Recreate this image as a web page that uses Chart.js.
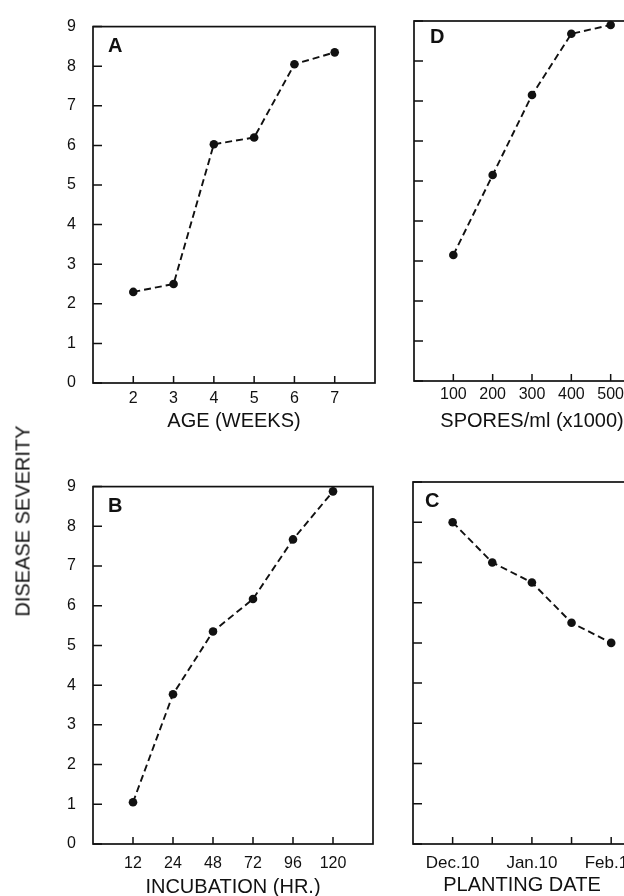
<!DOCTYPE html>
<html>
<head>
  <meta charset="UTF-8" />
  <title>Disease Severity</title>
  <script src="https://cdn.jsdelivr.net/npm/chart.js"></script>
  <style>
    html, body {
      margin: 0;
      padding: 0;
      width: 624px;
      height: 896px;
      overflow: hidden;
      background: white;
    }
    body {
      position: relative;
      font-family: "Liberation Sans", Arial, sans-serif;
    }
    canvas { position: absolute; }
    #chartA { left: 0; top: 0; }
    #chartD { left: 390px; top: 0; }
    #chartB { left: 0; top: 460px; }
    #chartC { left: 390px; top: 460px; }
    .ylabel {
      position: absolute;
      left: 23px;
      top: 521px;
      transform: translate(-50%, -50%) rotate(-90deg);
      font-size: 20px;
      color: #111;
      white-space: nowrap;
    }
  </style>
</head>
<body>
  <canvas id="chartA" width="390" height="440"></canvas>
  <canvas id="chartD" width="300" height="440"></canvas>
  <canvas id="chartB" width="390" height="450"></canvas>
  <canvas id="chartC" width="300" height="450"></canvas>
  <div class="ylabel">DISEASE SEVERITY</div>
  <script>
    const severityTicks = [0, 1, 2, 3, 4, 5, 6, 7, 8, 9];

    const ageWeeks = [2, 3, 4, 5, 6, 7];
    const ageSeverity = [2.3, 2.5, 6.03, 6.2, 8.05, 8.35];

    const sporesK = [100, 200, 300, 400, 500];
    const sporesSeverity = [3.15, 5.15, 7.15, 8.68, 8.9];

    const incubationHr = ['12', '24', '48', '72', '96', '120'];
    const incubationSeverity = [1.05, 3.77, 5.35, 6.17, 7.67, 8.88];

    const plantingDates = ['Dec.10', '', 'Jan.10', '', 'Feb.18'];
    const plantingSeverity = [8.0, 7.0, 6.5, 5.5, 5.0];

    const FONT = '"Liberation Sans", Arial, sans-serif';

    // box round the plot, inward tick marks and the panel letter
    const framePlugin = {
      id: 'frame',
      afterDraw(chart, args, opts) {
        const { ctx, chartArea: a } = chart;
        const x = chart.scales.x, y = chart.scales.y;
        ctx.save();
        ctx.strokeStyle = '#111';
        ctx.lineWidth = 1.7;
        ctx.strokeRect(a.left, a.top, a.right - a.left, a.bottom - a.top);
        ctx.lineWidth = 1.5;
        ctx.beginPath();
        x.ticks.forEach(t => {
          const px = x.getPixelForValue(t.value);
          ctx.moveTo(px, a.bottom);
          ctx.lineTo(px, a.bottom - 7);
        });
        y.ticks.forEach(t => {
          const py = y.getPixelForValue(t.value);
          ctx.moveTo(a.left, py);
          ctx.lineTo(a.left + 9, py);
        });
        ctx.stroke();
        ctx.fillStyle = '#111';
        ctx.font = 'bold 20px ' + FONT;
        ctx.textBaseline = 'alphabetic';
        ctx.fillText(opts.letter, a.left + opts.dx, a.top + opts.dy);
        ctx.restore();
      }
    };

    function makePanel(id, cfg) {
      return new Chart(document.getElementById(id), {
        type: 'line',
        data: {
          datasets: [{
            data: cfg.xs.map((v, i) => ({ x: v, y: cfg.ys[i] })),
            borderColor: '#111',
            borderWidth: 1.9,
            borderDash: [7, 4],
            pointRadius: 4.3,
            pointBackgroundColor: '#111',
            pointBorderWidth: 0,
            tension: 0,
            fill: false,
            clip: false
          }]
        },
        options: {
          responsive: false,
          animation: false,
          layout: { padding: cfg.padding },
          plugins: {
            legend: { display: false },
            tooltip: { enabled: false },
            frame: { letter: cfg.letter, dx: cfg.letterDx, dy: cfg.letterDy }
          },
          scales: {
            x: {
              type: 'linear',
              min: cfg.xMin,
              max: cfg.xMax,
              grid: { display: false, drawTicks: false },
              border: { display: false },
              afterBuildTicks: s => { s.ticks = cfg.xTicks.map(v => ({ value: v })); },
              afterFit: s => { s.height = cfg.xHeight; },
              ticks: {
                color: '#111',
                font: { family: FONT, size: cfg.xFont },
                padding: cfg.xPad,
                maxRotation: 0,
                autoSkip: false,
                callback: cfg.xLabel
              },
              title: {
                display: true,
                text: cfg.title,
                color: '#111',
                font: { family: FONT, size: 20 },
                padding: { top: 0, bottom: cfg.titlePad }
              }
            },
            y: {
              min: 0,
              max: 9,
              grid: { display: false, drawTicks: false },
              border: { display: false },
              afterBuildTicks: s => { s.ticks = severityTicks.map(v => ({ value: v })); },
              afterFit: s => { s.width = cfg.yWidth; },
              ticks: {
                display: cfg.yLabels,
                color: '#111',
                font: { family: FONT, size: 16 },
                padding: 17
              }
            }
          }
        },
        plugins: [framePlugin]
      });
    }

    makePanel('chartA', {
      xs: ageWeeks, ys: ageSeverity,
      xMin: 1, xMax: 8, xTicks: ageWeeks, xLabel: v => String(v),
      xFont: 16, xPad: 6, xHeight: 57,
      title: 'AGE (WEEKS)', titlePad: 7,
      yWidth: 93, yLabels: true,
      padding: { left: 0, top: 23, right: 15, bottom: 0 },
      letter: 'A', letterDx: 15, letterDy: 25
    });

    makePanel('chartD', {
      xs: sporesK, ys: sporesSeverity,
      xMin: 0, xMax: 600, xTicks: sporesK, xLabel: v => String(v),
      xFont: 16, xPad: 4, xHeight: 59,
      title: 'SPORES/ml (x1000)', titlePad: 7,
      yWidth: 24, yLabels: false,
      padding: { left: 0, top: 21, right: 40, bottom: 0 },
      letter: 'D', letterDx: 16, letterDy: 22
    });

    makePanel('chartB', {
      xs: incubationHr.map((h, i) => i + 1), ys: incubationSeverity,
      xMin: 0, xMax: 7, xTicks: incubationHr.map((h, i) => i + 1), xLabel: (v, i) => incubationHr[i],
      xFont: 16, xPad: 10, xHeight: 66,
      title: 'INCUBATION (HR.)', titlePad: 11,
      yWidth: 93, yLabels: true,
      padding: { left: 0, top: 23, right: 17, bottom: 0 },
      letter: 'B', letterDx: 15, letterDy: 25
    });

    makePanel('chartC', {
      xs: plantingDates.map((d, i) => i + 1), ys: plantingSeverity,
      xMin: 0, xMax: 5.5, xTicks: plantingDates.map((d, i) => i + 1), xLabel: (v, i) => plantingDates[i],
      xFont: 17, xPad: 9, xHeight: 66,
      title: 'PLANTING DATE', titlePad: 13,
      yWidth: 23, yLabels: false,
      padding: { left: 0, top: 22, right: 59, bottom: 0 },
      letter: 'C', letterDx: 12, letterDy: 25
    });
  </script>
</body>
</html>
